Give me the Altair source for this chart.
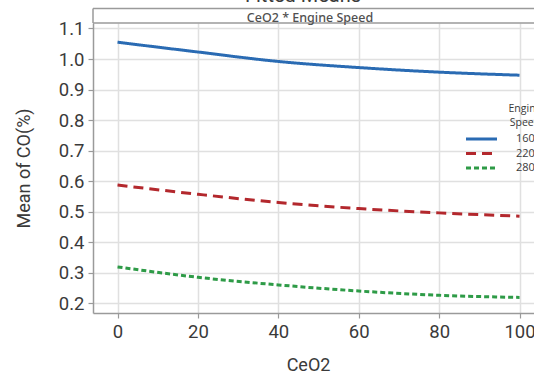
import altair as alt
import pandas as pd

# Fitted means of CO(%) against CeO2 dose, one curve per engine speed
ceo2 = [0, 20, 40, 60, 80, 100]
speeds = ["1600", "2200", "2800"]
co_1600 = [1.055, 1.023, 0.992, 0.972, 0.957, 0.947]
co_2200 = [0.587, 0.557, 0.530, 0.510, 0.496, 0.485]
co_2800 = [0.319, 0.285, 0.260, 0.240, 0.226, 0.219]

x_ticks = [0, 20, 40, 60, 80, 100]
y_ticks = [0.2, 0.3, 0.4, 0.5, 0.6, 0.7, 0.8, 0.9, 1.0, 1.1]

colors = ["#2a6bb3", "#b3282d", "#2e9b47"]
dashes = [[1, 0], [10, 6], [5, 3]]

rows = []
for speed, series in zip(speeds, [co_1600, co_2200, co_2800]):
    for x, y in zip(ceo2, series):
        rows.append({"CeO2": x, "CO": y, "Speed": speed})
df = pd.DataFrame(rows)

W, H = 441, 290
FONT = "Roboto"
TEXT = "#3a3a3a"
BORDER = "#9a9a9a"

color_scale = alt.Scale(domain=speeds, range=colors)
dash_scale = alt.Scale(domain=speeds, range=dashes)

lines = alt.Chart(df).mark_line(interpolate="monotone", strokeWidth=3).encode(
    x=alt.X(
        "CeO2:Q",
        scale=alt.Scale(domain=[-6.1, 103.6], nice=False, zero=False),
        axis=alt.Axis(
            values=x_ticks, title="CeO2", titleX=215, titlePadding=16,
        ),
    ),
    y=alt.Y(
        "CO:Q",
        scale=alt.Scale(domain=[0.168, 1.118], nice=False, zero=False),
        axis=alt.Axis(
            values=y_ticks, format=".1f", title="Mean of CO(%)", titlePadding=25,
        ),
    ),
    color=alt.Color("Speed:N", scale=color_scale, legend=None),
    strokeDash=alt.StrokeDash("Speed:N", scale=dash_scale, legend=None),
)

# Legend drawn as its own layer inside the panel
legend_df = pd.DataFrame({"Speed": speeds})
leg_y = alt.Y(
    "Speed:N",
    scale=alt.Scale(type="point", domain=speeds, range=[116, 145], padding=0),
    axis=None,
)
legend_lines = alt.Chart(legend_df).mark_rule(strokeWidth=3).encode(
    x=alt.value(373),
    x2=alt.value(404),
    y=leg_y,
    color=alt.Color("Speed:N", scale=color_scale, legend=None),
    strokeDash=alt.StrokeDash("Speed:N", scale=dash_scale, legend=None),
)
legend_labels = alt.Chart(legend_df).mark_text(
    align="left", baseline="middle", fontSize=11, font="Open Sans", color=TEXT
).encode(x=alt.value(423), y=leg_y, text="Speed:N")

one = pd.DataFrame({"k": [0]})
legend_title = alt.Chart(one).mark_text(
    text=["Engine", "Speed"], align="center", baseline="top", lineHeight=14,
    fontSize=10.5, font="Open Sans", color=TEXT,
).encode(x=alt.value(432), y=alt.value(81))

# Panel header box and titles
header_top = alt.Chart(one).mark_rule(color=BORDER, strokeWidth=1.5).encode(
    x=alt.value(0), x2=alt.value(W), y=alt.value(-14.5)
)
header_bottom = alt.Chart(one).mark_rule(color=BORDER, strokeWidth=1.5).encode(
    x=alt.value(0), x2=alt.value(W), y=alt.value(0)
)
header_left = alt.Chart(one).mark_rule(color=BORDER, strokeWidth=1.5).encode(
    x=alt.value(0), y=alt.value(-14.5), y2=alt.value(0)
)
header_text = alt.Chart(one).mark_text(
    text="CeO2 * Engine Speed", fontSize=12.5, fontWeight=500, font="Noto Sans",
    color="#505050", align="center", baseline="alphabetic",
).encode(x=alt.value(217), y=alt.value(-1.5))
main_title = alt.Chart(one).mark_text(
    text="Fitted Means", fontSize=20, font=FONT, color=TEXT,
    align="center", baseline="alphabetic",
).encode(x=alt.value(210), y=alt.value(-21))

chart = (
    alt.layer(
        lines, legend_lines, legend_labels, legend_title,
        header_top, header_bottom, header_left, header_text, main_title,
    )
    .resolve_scale(y="independent")
    .properties(
        width=W,
        height=H,
        autosize=alt.AutoSizeParams(type="none"),
        padding={"left": 93, "top": 23, "right": 0, "bottom": 63},
        background="white",
    )
    .configure_view(stroke=None)
    .configure_axis(
        grid=True,
        gridColor="#e0e0e0",
        gridWidth=1.5,
        domainColor=BORDER,
        domainWidth=1.5,
        tickColor=BORDER,
        tickSize=5,
        tickWidth=1.2,
        labelPadding=4,
        labelFont=FONT,
        labelFontSize=18.5,
        labelColor=TEXT,
        titleFont=FONT,
        titleFontSize=18,
        titleFontWeight="normal",
        titleColor=TEXT,
    )
)

chart.save("out.html", embed_options={"renderer": "svg", "actions": False})
